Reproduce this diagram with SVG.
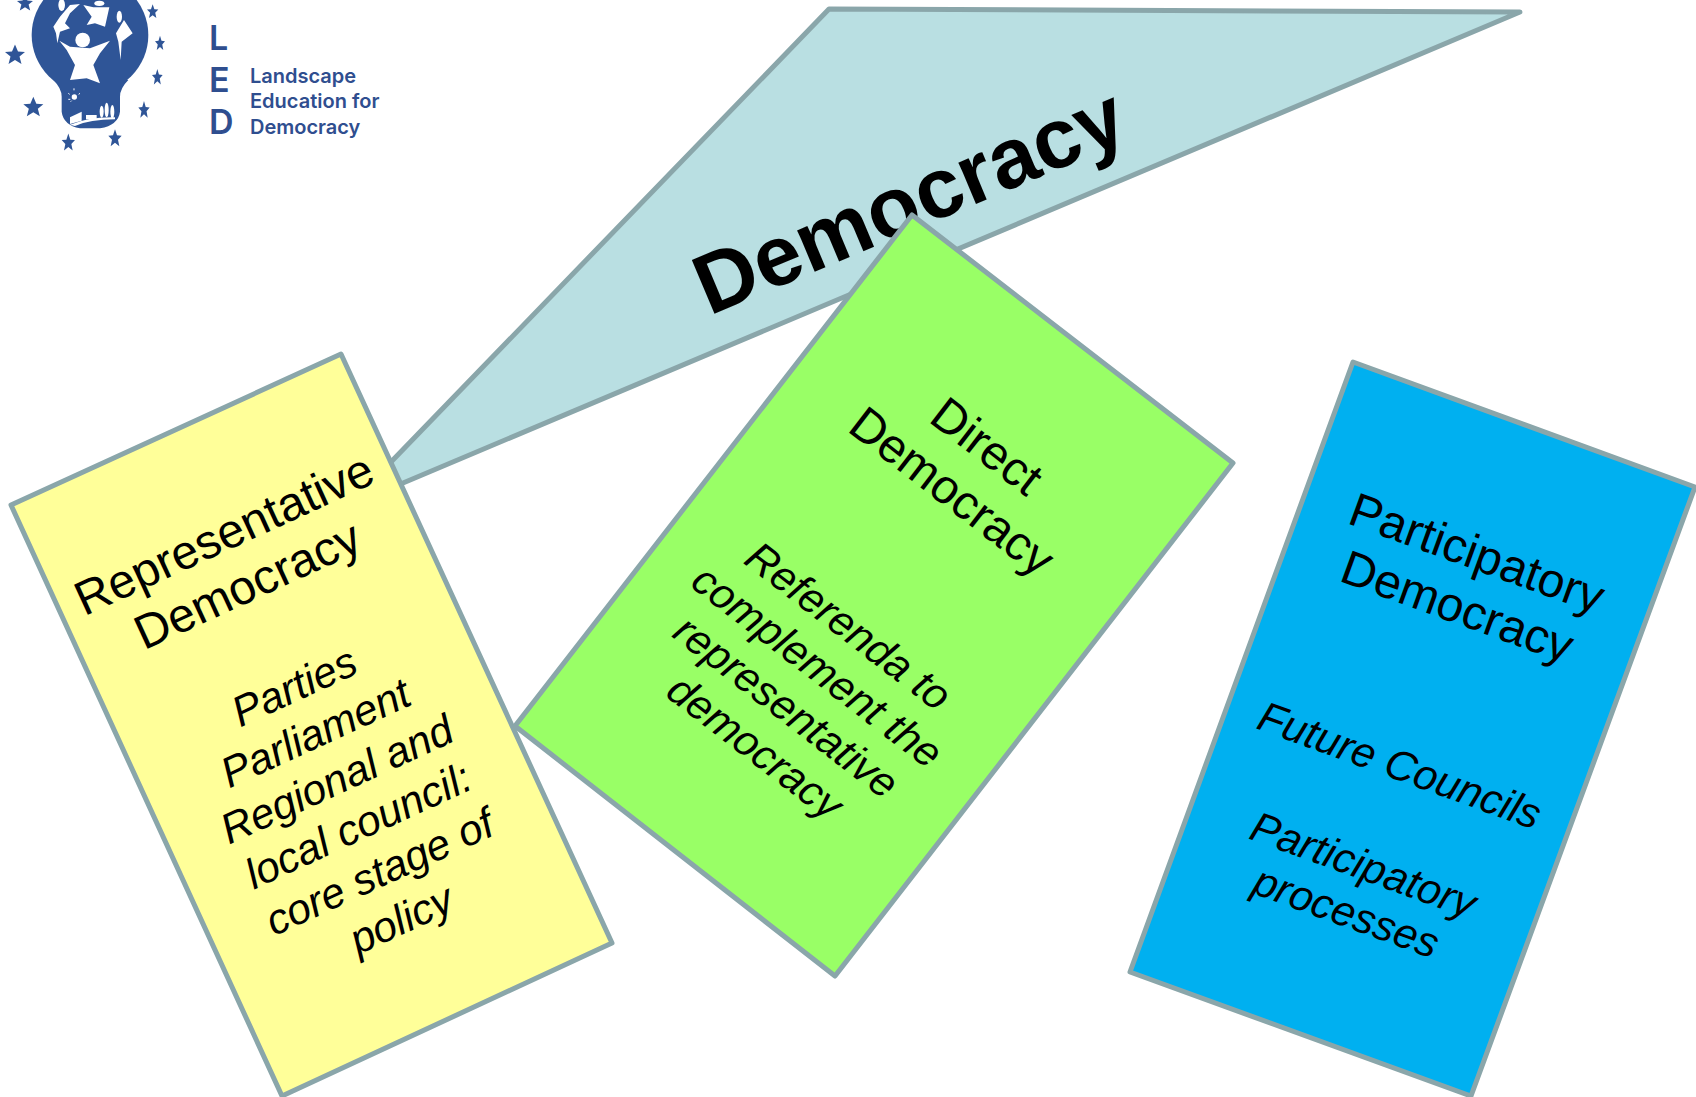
<svg xmlns="http://www.w3.org/2000/svg" width="1696" height="1097" viewBox="0 0 1696 1097">
<style>
.card{stroke:#8AA6AA;stroke-width:5;stroke-linejoin:round}
text{font-family:"Liberation Sans",Arial,sans-serif;fill:#000;text-anchor:middle;dominant-baseline:central}
.h{font-size:48px}.b{font-size:42.5px;font-style:italic}
.logo{fill:#2F5597}.w{fill:#fff}
.led{font-family:"Inter","Liberation Sans",sans-serif;fill:#2F4E8F;font-weight:600;text-anchor:start;dominant-baseline:auto}
</style>
<defs><path id="s" d="M0,-21 L6,-7 L20,-6 L9,3 L13,18 L0,10 L-13,18 L-9,3 L-20,-6 L-6,-7Z"/></defs>
<rect width="1696" height="1097" fill="#fff"/>
<g id="logo">
<g transform="scale(.33333)">
<circle class="logo" cx="270" cy="105" r="175"/>
<path class="logo" d="M160,240Q185,265 185,290V335Q190,375 240,385H300Q355,375 360,335V290Q360,265 385,240Z"/>
<g transform="translate(150 0)">
<path class="w" d="M28,122L60,140L120,145L180,122L150,160L130,195L150,250L110,235L60,240L75,195L50,150Z"/>
<circle class="w" cx="98" cy="120" r="22"/>
<path class="w" d="M10,80L30,50L60,15L90,12L60,40L45,70L60,85L30,95L22,130L18,100Z"/>
<path class="w" d="M100,15L130,22L178,22L165,80L135,70L110,75L125,50Z"/>
<ellipse class="w" cx="35" cy="15" rx="10" ry="18"/><ellipse class="w" cx="148" cy="10" rx="15" ry="8"/><ellipse class="w" cx="208" cy="50" rx="8" ry="18"/>
<path class="w" d="M198,100L222,60L248,100L215,125L212,180L205,125Z"/>
<ellipse class="w" cx="155" cy="335" rx="6" ry="18"/><ellipse class="w" cx="170" cy="330" rx="6" ry="22"/><ellipse class="w" cx="187" cy="335" rx="6" ry="20"/>
<path class="w" d="M60,352L95,335V362L60,372Z"/>
<path class="w" d="M108,345H140V358H108Z"/>
<path class="w" d="M60,374Q120,350 195,352V358Q120,358 75,378Z"/>
<circle class="w" cx="73" cy="291" r="8"/>
<path d="M55,280l4,3M72,265v6M90,280l-4,3M55,298h6M62,305l3,-3" stroke="#fff" stroke-width="3" fill="none"/>
</g>
<g class="logo">
<use href="#s" transform="translate(75 10) scale(1.2)"/><use href="#s" transform="translate(458 35) scale(.85 1.05)"/><use href="#s" transform="translate(480 130) scale(.75 1.1)"/><use href="#s" transform="translate(45 165) scale(1.5)"/><use href="#s" transform="translate(472 232) scale(.8 1.2)"/><use href="#s" transform="translate(100 322) scale(1.5)"/><use href="#s" transform="translate(432 330) scale(.85 1.3)"/><use href="#s" transform="translate(205 428) scale(1 1.3)"/><use href="#s" transform="translate(345 415) scale(1 1.3)"/>
</g>
</g>
<text class="led" x="209" y="50" font-size="34">L</text>
<text class="led" x="209" y="92" font-size="34">E</text>
<text class="led" x="209" y="134" font-size="34">D</text>
<text class="led" x="250" y="83" font-size="20">Landscape</text>
<text class="led" x="250" y="108" font-size="20">Education for</text>
<text class="led" x="250" y="134" font-size="20">Democracy</text>
</g>
<g id="democracy">
<polygon class="card" fill="#B9DFE2" points="829,9 1520,12 403,483 380,493 361,493"/>
<text transform="translate(909 200) rotate(-22.8)" font-size="85" font-weight="700">Democracy</text>
</g>
<g id="representative">
<polygon class="card" fill="#FFFF99" points="341,354 612,943 282,1096 11,505"/>
<g transform="translate(224 534) rotate(-24.7)">
<text class="h" y="0">Representative</text><text class="h" y="56">Democracy</text>
<text class="b" y="168">Parties</text><text class="b" y="219">Parliament</text><text class="b" y="270">Regional and</text><text class="b" y="321">local council:</text><text class="b" y="372">core stage of</text><text class="b" y="424">policy</text>
</g>
</g>
<g id="direct">
<polygon class="card" fill="#99FF66" points="912,215 1233,463 835,976 515,726"/>
<g transform="translate(987 446) rotate(37.6)">
<text class="h" y="0">Direct</text><text class="h" y="57">Democracy</text>
<text class="b" y="227">Referenda to</text><text class="b" y="278">complement the</text><text class="b" y="329">representative</text><text class="b" y="380">democracy</text>
</g>
</g>
<g id="participatory">
<polygon class="card" fill="#00B0F0" points="1353,362 1695,487 1471,1096 1130,972"/>
<g transform="translate(1477 553) rotate(20)">
<text class="h" y="0">Participatory</text><text class="h" y="57">Democracy</text>
<text class="b" y="226">Future Councils</text><text class="b" y="332">Participatory</text><text class="b" y="382">processes</text>
</g>
</g>
</svg>
